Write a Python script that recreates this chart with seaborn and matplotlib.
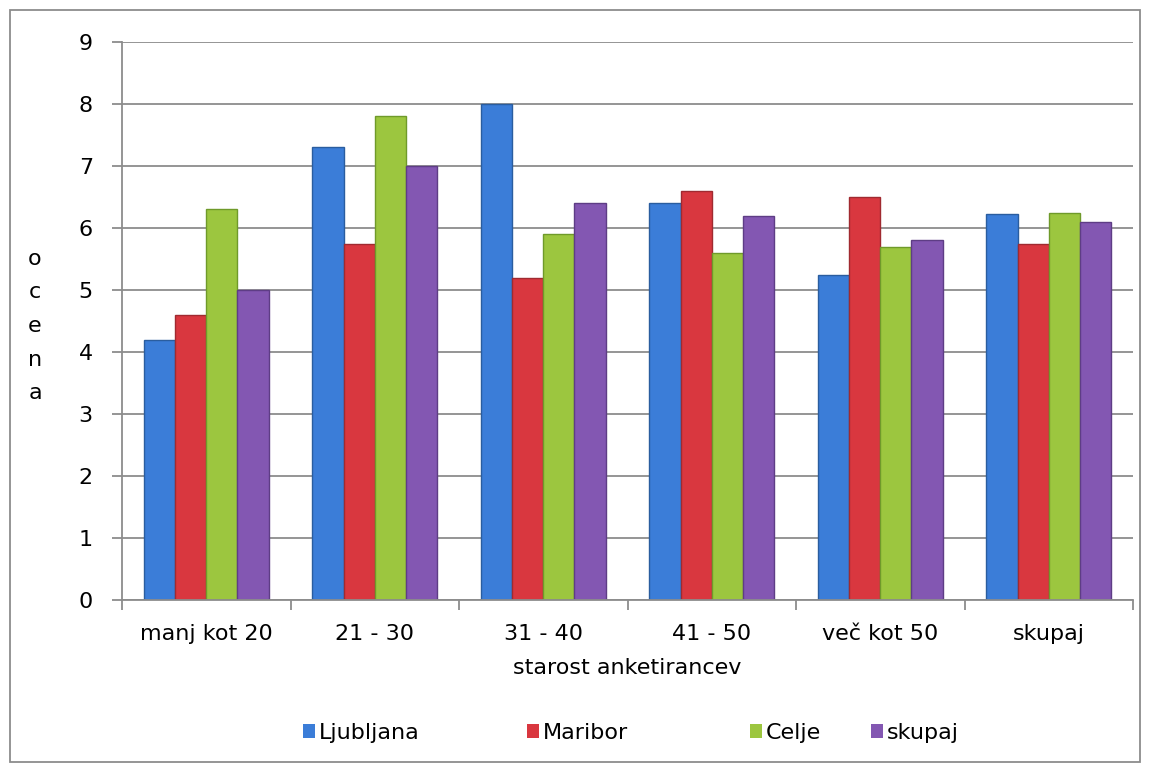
import pandas as pd
import numpy as np
import seaborn as sns
import matplotlib.pyplot as plt
from matplotlib.patches import Rectangle

# podatki razbrani iz grafa
skupine = ["manj kot 20", "21 - 30", "31 - 40", "41 - 50", "več kot 50", "skupaj"]
ljubljana = [4.2, 7.3, 8.0, 6.4, 5.25, 6.22]
maribor = [4.6, 5.75, 5.2, 6.6, 6.5, 5.75]
celje = [6.3, 7.8, 5.9, 5.6, 5.7, 6.25]
skupaj = [5.0, 7.0, 6.4, 6.2, 5.8, 6.1]
mesta = ["Ljubljana", "Maribor", "Celje", "skupaj"]
barve = ["#3b7dd8", "#d9373f", "#9cc63f", "#8357b2"]
robovi = ["#2a5d9f", "#a02a30", "#6f9a2a", "#5e3d85"]

df = pd.DataFrame({
    "starost": skupine * 4,
    "mesto": np.repeat(mesta, len(skupine)),
    "ocena": ljubljana + maribor + celje + skupaj,
})

sns.set_style("white")
# original je raztegnjen Arial, DejaVu je po sirini najblizje
plt.rcParams['font.family'] = ['DejaVu Sans']
plt.rcParams['text.color'] = "black"
plt.rcParams['axes.labelcolor'] = "black"
plt.rcParams['xtick.labelcolor'] = "black"
plt.rcParams['ytick.labelcolor'] = "black"
fs = 16

fig = plt.figure(figsize=(11.51, 7.72), dpi=100)
ax = fig.add_axes([122/1151, 1 - 600/772, (1133-122)/1151, (600-42)/772])

sns.barplot(data=df, x="starost", y="ocena", hue="mesto", palette=barve,
            width=0.74, ax=ax, edgecolor="none", saturation=1, legend=True)

# temnejsi robovi stolpcev (priblizek senčenja)
for cont, rob in zip(ax.containers, robovi):
    for p in cont:
        p.set_edgecolor(rob)
        p.set_linewidth(1.0)

ax.set_ylim(0, 9)
ax.set_xlim(-0.5, 5.5)
ax.set_yticks(range(0, 10))
ax.yaxis.grid(True, color="#8c8c8c", linewidth=1.3)
ax.set_axisbelow(True)
for s in ["top", "right"]:
    ax.spines[s].set_visible(False)
for s in ["left", "bottom"]:
    ax.spines[s].set_color("#8c8c8c")
    ax.spines[s].set_linewidth(1.3)

ax.tick_params(axis="y", left=True, length=7, color="#8c8c8c", width=1.3,
               labelsize=fs, pad=14)
ax.set_xticks(np.arange(-0.5, 6, 1), minor=True)
ax.tick_params(axis="x", which="minor", bottom=True, length=7, color="#8c8c8c", width=1.3)
ax.tick_params(axis="x", which="major", length=0, labelsize=fs, pad=17)

ax.set_xlabel("starost anketirancev", fontsize=fs, labelpad=10)
ax.set_ylabel("")
fig.text(35/1151, 1 - 326/772, "o\nc\ne\nn\na", fontsize=fs, ha="center", va="center",
         linespacing=1.85)

# legenda - vsak vnos posebej, kot v originalu
handles, labels = ax.get_legend_handles_labels()
ax.get_legend().remove()
leg_x = [303, 527, 750, 871]
for h, l, x in zip(handles, labels, leg_x):
    fig.legend([h], [l], loc="center left", bbox_to_anchor=(x/1151, 1 - 733/772),
               frameon=False, fontsize=fs, handlelength=0.55, handleheight=0.55,
               handletextpad=0.15, borderpad=0, borderaxespad=0)

fig.patches.append(Rectangle((10/1151, 10/772), 1130/1151, 752/772, transform=fig.transFigure,
                             fill=False, edgecolor="#8c8c8c", linewidth=1.3))

fig.savefig("out.png", dpi=100)
